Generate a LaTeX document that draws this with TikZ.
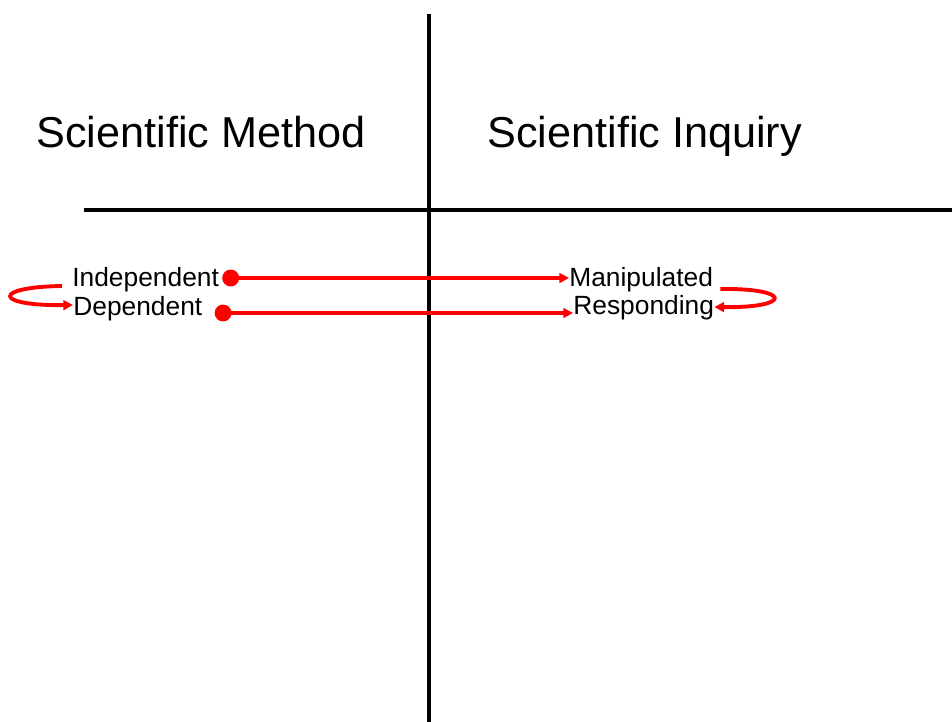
\documentclass[tikz,border=0pt]{standalone}
\usepackage{fontspec}
\setmainfont{Liberation Sans}
\usetikzlibrary{arrows.meta, calc}

\begin{document}
\begin{tikzpicture}[x=0.02cm, y=-0.02cm]
    \tikzset{
        rule/.style={line width=2.2pt, black},
        link/.style={line width=2.2pt, red, -{Triangle[length=5.5pt, width=5.5pt]}},
        title/.style={font=\fontsize{24.6}{29}\selectfont, inner sep=0pt, anchor=base west},
        word/.style={font=\fontsize{15}{18}\selectfont, inner sep=0pt, anchor=base west}
    }
    \useasboundingbox (0,0) rectangle (952,722);

    % T-chart lines
    \coordinate (vtop) at (429,14);
    \coordinate (vbot) at (429,722);
    \coordinate (hleft) at (84,210);
    \coordinate (hright) at (952,210);
    \draw[rule] (vtop) -- (vbot);
    \draw[rule] (hleft) -- (hright);

    % Headings
    \node[title] (method) at (36,148) {Scientific Method};
    \node[title] (inquiry) at (487,148) {Scientific Inquiry};

    % Variable names
    \node[word] (ind) at (72,287) {Independent};
    \node[word] (dep) at (73,316) {Dependent};
    \node[word] (man) at (569,287) {Manipulated};
    \node[word] (resp) at (573,315) {Responding};

    % Matching arrows
    \draw[link, {Circle[length=9.6pt]}-{Triangle[length=5.5pt, width=5.5pt]}]
        ($(ind.base east)+(3,-9)$) -- ($(man.base west)+(0,-9)$);
    \draw[link, {Circle[length=9.6pt]}-{Triangle[length=5.5pt, width=5.5pt]}]
        ($(dep.base east)+(12,-3)$) -- ($(resp.base west)+(0,-2)$);

    % Swap loops
    \draw[link] ($(ind.base west)+(-10,-1)$)
        .. controls +(-70,1) and +(-80,1) .. ($(dep.base west)+(0,-11)$);
    \draw[link] ($(man.base east)+(7,2)$)
        .. controls +(72,-1) and +(78,1) .. ($(resp.base east)+(0,-8)$);
\end{tikzpicture}
\end{document}
